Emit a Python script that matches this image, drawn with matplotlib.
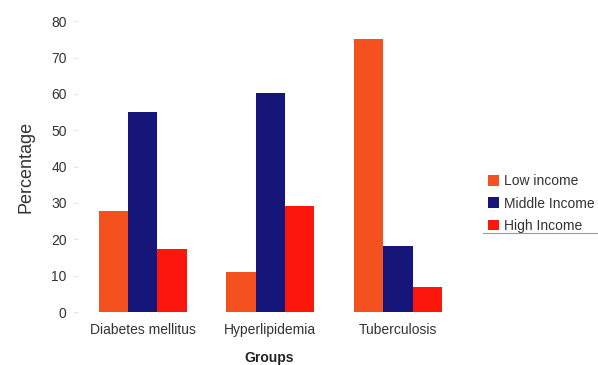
import matplotlib.pyplot as plt
import numpy as np
from matplotlib.lines import Line2D

groups = ["Diabetes mellitus", "Hyperlipidemia", "Tuberculosis"]
series_names = ["Low income", "Middle Income", "High Income"]
low_income = [27.7, 11.0, 75.0]
middle_income = [55.0, 60.2, 18.3]
high_income = [17.3, 29.2, 6.8]
colors = ["#f4511e", "#16167a", "#fc160c"]

plt.rcParams["font.family"] = ["Liberation Sans", "DejaVu Sans"]

fig = plt.figure(figsize=(5.98, 3.65), dpi=100)
ax = fig.add_axes([0.13, 0.145, 0.64, 0.797])

x = np.arange(len(groups))
width = 0.23
for i, (vals, name) in enumerate(zip([low_income, middle_income, high_income], series_names)):
    ax.bar(x + (i - 1) * width, vals, width, color=colors[i], label=name, linewidth=0)

ax.set_xlim(-0.51, 2.49)
ax.set_ylim(0, 80)
ax.set_yticks(range(0, 81, 10))
ax.set_xticks(x)
ax.set_xticklabels(groups)
for s in ax.spines.values():
    s.set_visible(False)
ax.tick_params(axis="y", length=3, color="#e4e4e4", labelsize=10, labelcolor="#333333", pad=5)
ax.tick_params(axis="x", length=0, labelsize=10, labelcolor="#333333", pad=8)

ax.set_ylabel("Percentage", fontsize=13, color="#333333", labelpad=12)
ax.set_xlabel("Groups", fontsize=10, fontweight="bold", color="#222222", labelpad=10)

leg = fig.legend(loc="upper left", bbox_to_anchor=(0.795, 0.557), frameon=False,
                 fontsize=10, handlelength=0.8, handleheight=0.8, handletextpad=0.35,
                 labelspacing=0.6, labelcolor="#333333")
fig.add_artist(Line2D([0.808, 1.0], [0.362, 0.362], transform=fig.transFigure,
                      color="#999999", linewidth=0.8))

fig.savefig("out.png", dpi=100)
